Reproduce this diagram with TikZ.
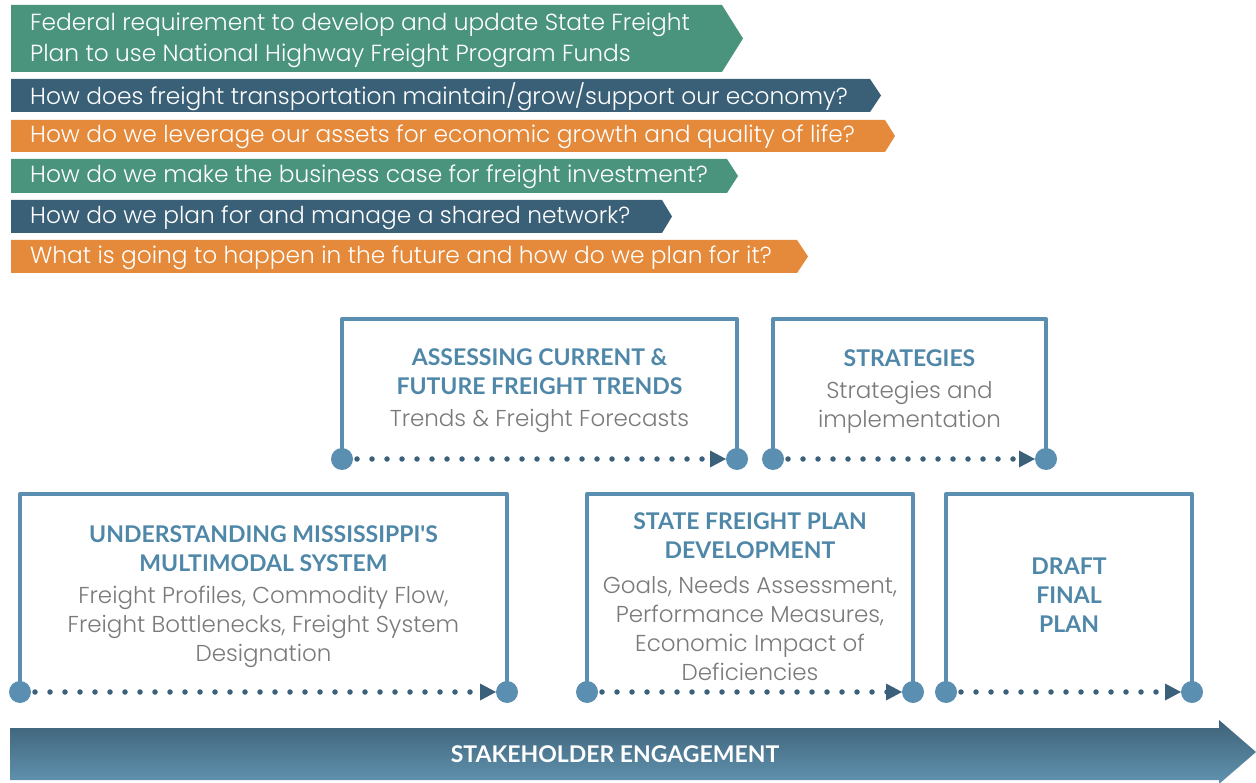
\documentclass[tikz,border=0pt]{standalone}
\usepackage{fontspec}
\setmainfont{Poppins Light}
\newfontfamily\tfont{Lato}
\usetikzlibrary{arrows.meta}
\definecolor{grn}{HTML}{4A947E}
\definecolor{dkb}{HTML}{3A6078}
\definecolor{org}{HTML}{E5893A}
\definecolor{boxc}{HTML}{5B8FB1}
\definecolor{ttl}{HTML}{4F87A9}
\definecolor{gry}{HTML}{7A7A7A}
\definecolor{dotc}{HTML}{3B6079}
\definecolor{arT}{HTML}{3E6278}
\definecolor{arB}{HTML}{6193B0}
\tikzset{
  bantext/.style={anchor=west, text=white, inner sep=0pt, font=\fontsize{23.3}{31}\selectfont, align=left},
  frame/.style={draw=boxc, line width=4pt, line join=round},
  dotpt/.style={circle, fill=boxc, minimum size=22pt, inner sep=0pt},
  dotline/.style={draw=dotc, line width=5.5pt, line cap=round, dash pattern=on 0pt off 15pt, shorten <=15pt, shorten >=22pt},
  tip/.style={fill=dotc},
  ttltext/.style={text=ttl, font=\tfont\bfseries\fontsize{23}{29}\selectfont, align=center, inner sep=0pt},
  bodytext/.style={text=gry, font=\fontsize{23}{29}\selectfont, align=center, inner sep=0pt}
}
\begin{document}
\begin{tikzpicture}[x=1pt,y=-1pt]
\useasboundingbox (0,0) rectangle (1256,783);
\fill[white] (0,0) rectangle (1256,783);
% banners
\fill[grn] (11,5) -- (722,5) -- (743,38.5) -- (722,72) -- (11,72) -- cycle;
\node[bantext] (b1) at (30,40) {Federal requirement to develop and update State Freight\\Plan to use National Highway Freight Program Funds};
\fill[dkb] (11,79) -- (870,79) -- (881,95.5) -- (870,112) -- (11,112) -- cycle;
\node[bantext] (b2) at (30,97) {How does freight transportation maintain/grow/support our economy?};
\fill[org] (11,120) -- (885,120) -- (895,136) -- (885,152) -- (11,152) -- cycle;
\node[bantext] (b3) at (30,137) {How do we leverage our assets for economic growth and quality of life?};
\fill[grn] (11,159) -- (727,159) -- (738,176) -- (727,193) -- (11,193) -- cycle;
\node[bantext] (b4) at (30,177) {How do we make the business case for freight investment?};
\fill[dkb] (11,200) -- (662,200) -- (672,216.5) -- (662,233) -- (11,233) -- cycle;
\node[bantext] (b5) at (30,217.5) {How do we plan for and manage a shared network?};
\fill[org] (11,240) -- (797,240) -- (808,256.5) -- (797,273) -- (11,273) -- cycle;
\node[bantext] (b6) at (30,257.5) {What is going to happen in the future and how do we plan for it?};

% box A
\coordinate (a1) at (342,459); \coordinate (a2) at (737,459);
\draw[frame] (a1) -- (342,319) -- (737,319) -- (a2);
\node[ttltext] (at) at (539.5,372) {ASSESSING CURRENT \&\\FUTURE FREIGHT TRENDS};
\node[bodytext] (ab) at (539.5,421) {Trends \& Freight Forecasts};
% box B
\coordinate (s1) at (773,459); \coordinate (s2) at (1046,459);
\draw[frame] (s1) -- (773,319) -- (1046,319) -- (s2);
\node[ttltext] (st) at (909.5,358) {STRATEGIES};
\node[bodytext] (sb) at (909.5,407) {Strategies and\\implementation};
% box C
\coordinate (u1) at (20,692); \coordinate (u2) at (507,692);
\draw[frame] (u1) -- (20,494) -- (507,494) -- (u2);
\node[ttltext] (ut) at (263.5,549) {UNDERSTANDING MISSISSIPPI'S\\MULTIMODAL SYSTEM};
\node[bodytext] (ub) at (263.5,627) {Freight Profiles, Commodity Flow,\\Freight Bottlenecks, Freight System\\Designation};
% box D
\coordinate (d1) at (587,692); \coordinate (d2) at (913,692);
\draw[frame] (d1) -- (587,494) -- (913,494) -- (d2);
\node[ttltext] (dt) at (750,536) {STATE FREIGHT PLAN\\DEVELOPMENT};
\node[bodytext] (db) at (750,628.5) {Goals, Needs Assessment,\\Performance Measures,\\Economic Impact of\\Deficiencies};
% box E
\coordinate (e1) at (946,692); \coordinate (e2) at (1192,692);
\draw[frame] (e1) -- (946,494) -- (1192,494) -- (e2);
\node[ttltext] (et) at (1069,595) {DRAFT\\FINAL\\PLAN};

% dots and arrows
\foreach \p/\q in {a1/a2,s1/s2,u1/u2,d1/d2,e1/e2}{
  \node[dotpt] (\p n) at (\p) {};
  \node[dotpt] (\q n) at (\q) {};
  \path[dotline] (\p n.center) -- (\q n.center);
  \fill[tip] ([xshift=-11pt]\q n.center) -- ++(-16,-8.5) -- ++(0,17) -- cycle;
}

% stakeholder arrow
\shade[top color=arT, bottom color=arB] (10,728) -- (1219,728) -- (1219,720) -- (1256,752) -- (1219,784) -- (1219,780) -- (10,780) -- cycle;
\node[text=white, font=\tfont\bfseries\fontsize{23}{28}\selectfont, inner sep=0pt] (sh) at (615,754) {STAKEHOLDER ENGAGEMENT};
\end{tikzpicture}
\end{document}
